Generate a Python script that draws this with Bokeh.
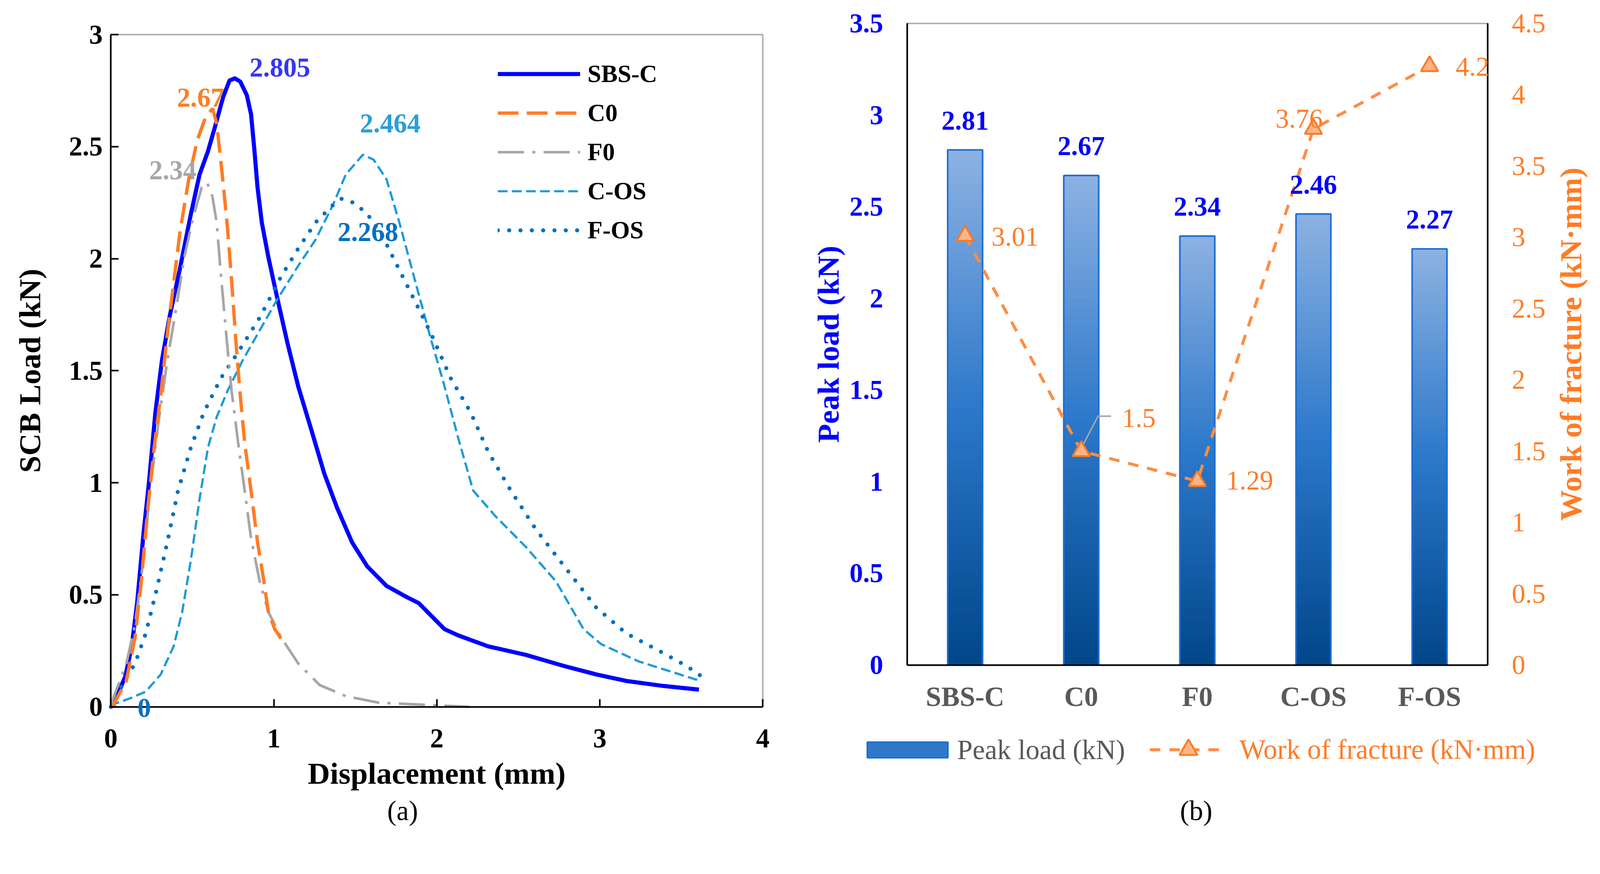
import math
from bokeh.plotting import figure
from bokeh.models import (Range1d, LinearAxis, Legend, LegendItem, Label, LabelSet,
                          ColumnDataSource, FixedTicker, BoxAnnotation)
from bokeh.layouts import row
from bokeh.embed import file_html
from bokeh.resources import INLINE
from bokeh.core.properties import value

FONT = "Liberation Serif"

# ---------------- panel (a): SCB load vs displacement ----------------
sbs_x = [0, 0.016, 0.088, 0.128, 0.161, 0.20, 0.234, 0.273, 0.313, 0.359, 0.425, 0.491, 0.544,
         0.596, 0.642, 0.689, 0.728, 0.761, 0.794, 0.834, 0.860, 0.880, 0.90, 0.926, 0.966, 1.018,
         1.084, 1.15, 1.23, 1.309, 1.388, 1.48, 1.573, 1.691, 1.81, 1.889, 1.968, 2.047, 2.131,
         2.315, 2.546, 2.777, 2.977, 3.16, 3.392, 3.608]
sbs_y = [0, 0.01, 0.135, 0.27, 0.463, 0.772, 1.004, 1.313, 1.544, 1.737, 1.96, 2.20, 2.375,
         2.48, 2.597, 2.722, 2.795, 2.805, 2.79, 2.73, 2.645, 2.49, 2.317, 2.162, 2.008, 1.834,
         1.622, 1.429, 1.236, 1.042, 0.888, 0.734, 0.627, 0.54, 0.492, 0.463, 0.405, 0.347, 0.319,
         0.27, 0.232, 0.183, 0.145, 0.116, 0.093, 0.077]

c0_x = [0, 0.016, 0.095, 0.148, 0.187, 0.227, 0.266, 0.306, 0.346, 0.385, 0.425, 0.478, 0.53,
        0.583, 0.625, 0.65, 0.668, 0.689, 0.715, 0.742, 0.768, 0.794, 0.821, 0.86, 0.9, 0.939,
        0.966, 1.005, 1.058]
c0_y = [0, 0.01, 0.116, 0.309, 0.56, 0.888, 1.158, 1.39, 1.66, 1.892, 2.124, 2.355, 2.529,
        2.635, 2.67, 2.60, 2.48, 2.336, 2.143, 1.892, 1.622, 1.39, 1.178, 0.965, 0.734, 0.56,
        0.425, 0.347, 0.29]

f0_x = [0, 0.009, 0.095, 0.148, 0.2, 0.24, 0.293, 0.346, 0.4, 0.451, 0.504, 0.557, 0.59, 0.623,
        0.649, 0.675, 0.708, 0.741, 0.781, 0.821, 0.86, 0.913, 0.966, 1.045, 1.15, 1.282, 1.441,
        1.639, 1.90, 2.2]
f0_y = [0, 0.029, 0.193, 0.367, 0.656, 0.965, 1.274, 1.544, 1.776, 2.008, 2.181, 2.317, 2.34,
        2.278, 2.162, 1.93, 1.66, 1.409, 1.178, 0.965, 0.753, 0.56, 0.425, 0.309, 0.193, 0.097,
        0.048, 0.019, 0.01, 0.0]

cos_x = [0, 0.009, 0.121, 0.214, 0.306, 0.385, 0.438, 0.491, 0.544, 0.596, 0.649, 0.715, 0.807,
         0.913, 1.018, 1.15, 1.256, 1.362, 1.441, 1.546, 1.612, 1.691, 1.77, 1.863, 1.968, 2.04,
         2.131, 2.223, 2.362, 2.546, 2.731, 2.9, 3.008, 3.238, 3.62]
cos_y = [0, 0.01, 0.039, 0.068, 0.145, 0.27, 0.425, 0.656, 0.927, 1.158, 1.293, 1.409, 1.544,
         1.68, 1.815, 1.969, 2.085, 2.239, 2.375, 2.464, 2.442, 2.355, 2.162, 1.911, 1.63, 1.45,
         1.2, 0.965, 0.849, 0.714, 0.56, 0.347, 0.28, 0.203, 0.115]

fos_x = [0, 0.01, 0.069, 0.148, 0.214, 0.28, 0.346, 0.412, 0.491, 0.57, 0.675, 0.781, 0.913,
         1.045, 1.15, 1.256, 1.362, 1.414, 1.493, 1.573, 1.665, 1.744, 1.863, 1.968, 2.085, 2.208,
         2.315, 2.454, 2.608, 2.792, 2.977, 3.162, 3.362, 3.531, 3.646]
fos_y = [0, 0.01, 0.097, 0.193, 0.328, 0.521, 0.734, 0.965, 1.158, 1.313, 1.467, 1.583, 1.737,
         1.921, 2.046, 2.162, 2.239, 2.268, 2.249, 2.2, 2.104, 1.988, 1.815, 1.66, 1.467, 1.313,
         1.139, 0.965, 0.792, 0.618, 0.444, 0.328, 0.251, 0.183, 0.125]

a_x_ticks = [0, 1, 2, 3, 4]
a_x_labels = ["0", "1", "2", "3", "4"]
a_y_ticks = [0, 0.5, 1, 1.5, 2, 2.5, 3]
a_y_labels = ["0", "0.5", "1", "1.5", "2", "2.5", "3"]

peak_text = ["2.805", "2.67", "2.34", "2.464", "2.268", "0"]
peak_colors = ["#3636F2", "#FF7C26", "#A6A6A6", "#2A9FD8", "#0070C0", "#0070C0"]
# annotation anchor positions (layout)
peak_tx = [1.037, 0.55, 0.38, 1.714, 1.577, 0.205]
peak_ty = [2.853, 2.718, 2.394, 2.603, 2.119, -0.005]

# ---------------- panel (b): peak load / work of fracture ----------------
categories = ["SBS-C", "C0", "F0", "C-OS", "F-OS"]
peak_load = [2.81, 2.67, 2.34, 2.46, 2.27]
work_fracture = [3.01, 1.5, 1.29, 3.76, 4.2]
peak_labels = ["2.81", "2.67", "2.34", "2.46", "2.27"]
work_labels = ["3.01", "1.5", "1.29", "3.76", "4.2"]
b_left_ticks = [0, 0.5, 1, 1.5, 2, 2.5, 3, 3.5]
b_left_labels = ["0", "0.5", "1", "1.5", "2", "2.5", "3", "3.5"]
b_right_ticks = [0, 0.5, 1, 1.5, 2, 2.5, 3, 3.5, 4, 4.5]
b_right_labels = ["0", "0.5", "1", "1.5", "2", "2.5", "3", "3.5", "4", "4.5"]

# label offsets (layout only)
work_dx = [0.43, 0.496, 0.451, -0.124, 0.37]
work_dy = [-0.007, 0.232, 0.004, 0.07, -0.005]

BLUE_TXT = "#0000FF"
ORANGE = "#FF7C26"
GRAY_TXT = "#595959"

# ---------------- page geometry ----------------
# positions are taken in reference-image pixels and converted to CSS pixels
ZOOM = 1.045
SHIFT = 10


def T(v):
    return v / ZOOM + SHIFT


def S(v):
    return v / ZOOM


def fpx(v):
    return "%dpx" % round(S(v))


def dash(*vals):
    return " ".join(str(max(0, round(S(v)))) for v in vals)


W1, W2, H = 2044, 2030, 2125
TOP = 8
BOTTOM = TOP + H
A_X0 = 8
B_X0 = 8 + W1
A_BOX = dict(left=T(294), right=T(2038), top=T(90), bottom=T(1888))
B_BOX = dict(left=T(2424), right=T(3977), top=T(60), bottom=T(1776))
CAPTION_Y = 2166  # caption centre line (kept clear of the page's bottom edge)


def lin(p, p0, v0, p1, v1):
    return v0 + (p - p0) * (v1 - v0) / (p1 - p0)


def style_axis(ax, ticks, labels, color, bold, size, standoff, tick_in=0):
    ax.ticker = FixedTicker(ticks=ticks)
    ax.major_label_overrides = dict(zip(ticks, labels))
    ax.major_label_text_font = FONT
    ax.major_label_text_font_size = fpx(size)
    ax.major_label_text_font_style = "bold" if bold else "normal"
    ax.major_label_text_color = color
    ax.major_label_standoff = round(S(standoff))
    ax.major_tick_in = round(S(tick_in))
    ax.major_tick_out = 0
    ax.minor_tick_in = 0
    ax.minor_tick_out = 0
    ax.major_tick_line_color = "black"
    ax.major_tick_line_width = 4
    ax.axis_line_color = "black"
    ax.axis_line_width = 4


def style_label(ax, text, color, standoff):
    ax.axis_label = text
    ax.axis_label_text_font = FONT
    ax.axis_label_text_font_size = fpx(83)
    ax.axis_label_text_font_style = "bold"
    ax.axis_label_text_color = color
    ax.axis_label_standoff = round(S(standoff))


def base_fig(w, xr, yr):
    p = figure(width=w, height=H, x_range=xr, y_range=yr, title=None,
               output_backend="svg", toolbar_location=None,
               min_border_left=0, min_border_right=0, min_border_top=0, min_border_bottom=0)
    p.grid.visible = False
    p.outline_line_color = None
    p.background_fill_color = "white"
    p.border_fill_color = "white"
    return p


# ======================= figure (a) =======================
ax_r = Range1d(lin(A_X0, A_BOX["left"], 0, A_BOX["right"], 4),
               lin(A_X0 + W1, A_BOX["left"], 0, A_BOX["right"], 4))
ay_r = Range1d(lin(BOTTOM, A_BOX["bottom"], 0, A_BOX["top"], 3),
               lin(TOP, A_BOX["bottom"], 0, A_BOX["top"], 3))
p1 = base_fig(W1, ax_r, ay_r)


def ay(py_ref):
    return lin(T(py_ref), A_BOX["bottom"], 0, A_BOX["top"], 3)


xa = p1.xaxis[0]
ya = p1.yaxis[0]
xa.fixed_location = 0
ya.fixed_location = 0
xa.bounds = (0, 4)
ya.bounds = (0, 3)
style_axis(xa, a_x_ticks, a_x_labels, "black", True, 72, 61, tick_in=21)
style_axis(ya, a_y_ticks, a_y_labels, "black", True, 72, 22, tick_in=21)
style_label(xa, "Displacement (mm)", "black", 20)
style_label(ya, "SCB Load (kN)", "black", 55)
p1.add_layout(BoxAnnotation(left=0, right=4, bottom=0, top=3, fill_alpha=0,
                            line_color="black", line_width=4))

r_sbs = p1.line(sbs_x, sbs_y, line_color="#0000FF", line_width=S(11), line_join="round")
r_cos = p1.line(cos_x, cos_y, line_color="#1E9BD7", line_width=S(6), line_dash=dash(26, 12))
r_fos = p1.line(fos_x, fos_y, line_color="#0070C0", line_width=S(11), line_dash=dash(0, 30),
                line_cap="round")
r_f0 = p1.line(f0_x, f0_y, line_color="#A6A6A6", line_width=S(7), line_dash=dash(70, 22, 8, 22))
r_c0 = p1.line(c0_x, c0_y, line_color="#FF7C26", line_width=S(9), line_dash=dash(55, 22))

leg_a = Legend(items=[LegendItem(label="SBS-C", renderers=[r_sbs]),
                      LegendItem(label="C0", renderers=[r_c0]),
                      LegendItem(label="F0", renderers=[r_f0]),
                      LegendItem(label="C-OS", renderers=[r_cos]),
                      LegendItem(label="F-OS", renderers=[r_fos])],
               location=(round(T(1329) - A_X0), round(BOTTOM - T(666))), orientation="vertical",
               glyph_width=round(S(221)), glyph_height=round(S(105)),
               label_standoff=round(S(20)), spacing=0,
               padding=0, margin=0, border_line_color=None, background_fill_alpha=0,
               label_text_font=FONT, label_text_font_style="bold",
               label_text_font_size=fpx(66), label_text_color="black")
p1.add_layout(leg_a)

src_pk = ColumnDataSource(dict(x=peak_tx, y=peak_ty, text=peak_text, color=peak_colors))
p1.add_layout(LabelSet(x="x", y="y", text="text", source=src_pk, text_color="color",
                       text_font=value(FONT), text_font_size=fpx(72), text_font_style="bold",
                       text_align="center", text_baseline="middle"))

p1.add_layout(Label(x=1.79, y=ay(CAPTION_Y), text="(a)", text_font=FONT, text_font_size=fpx(74),
                    text_color="black", text_align="center", text_baseline="middle"))

# ======================= figure (b) =======================
xs = list(range(len(categories)))
bx_r = Range1d(lin(B_X0, B_BOX["left"], -0.5, B_BOX["right"], 4.5),
               lin(B_X0 + W2, B_BOX["left"], -0.5, B_BOX["right"], 4.5))
by_r = Range1d(lin(BOTTOM, B_BOX["bottom"], 0, B_BOX["top"], 3.5),
               lin(TOP, B_BOX["bottom"], 0, B_BOX["top"], 3.5))
bw_r = Range1d(lin(BOTTOM, B_BOX["bottom"], 0, B_BOX["top"], 4.5),
               lin(TOP, B_BOX["bottom"], 0, B_BOX["top"], 4.5))
p2 = base_fig(W2, bx_r, by_r)
p2.extra_y_ranges = {"work": bw_r}


def bx(px_ref):
    return lin(T(px_ref), B_BOX["left"], -0.5, B_BOX["right"], 4.5)


def by(py_ref):
    return lin(T(py_ref), B_BOX["bottom"], 0, B_BOX["top"], 3.5)


xb = p2.xaxis[0]
yb = p2.yaxis[0]
xb.fixed_location = 0
yb.fixed_location = -0.5
xb.bounds = (-0.5, 4.5)
yb.bounds = (0, 3.5)
style_axis(xb, xs, categories, GRAY_TXT, True, 74, 44)
style_axis(yb, b_left_ticks, b_left_labels, BLUE_TXT, True, 72, 64)
style_label(yb, "Peak load (kN)", BLUE_TXT, 8)

right_ax = LinearAxis(y_range_name="work", fixed_location=4.5, bounds=(0, 4.5))
p2.add_layout(right_ax, "right")
style_axis(right_ax, b_right_ticks, b_right_labels, ORANGE, False, 72, 65)
# right-hand axis title, reading bottom to top as in the original
p2.add_layout(Label(x=bx(4200), y=by((60 + 1776) / 2), text="Work of fracture (kN·mm)",
                    angle=math.pi / 2, text_font=FONT, text_font_size=fpx(83),
                    text_font_style="bold", text_color=ORANGE, text_align="center",
                    text_baseline="middle"))


def hex2rgb(c):
    return [int(c[i:i + 2], 16) for i in (1, 3, 5)]


def mix(c1, c2, t):
    a, b = hex2rgb(c1), hex2rgb(c2)
    return "#%02x%02x%02x" % tuple(int(round(u + (v - u) * t)) for u, v in zip(a, b))


G_TOP, G_MID, G_BOT = "#8DB2E2", "#2C78CA", "#00468A"


def grad(t):
    if t < 0.5:
        return mix(G_BOT, G_MID, t / 0.5)
    return mix(G_MID, G_TOP, (t - 0.5) / 0.5)


# base bar (also used as legend swatch), gradient slices, outline
r_bar = p2.vbar(x=xs, top=peak_load, width=0.3, fill_color="#2F78C8", line_color="#1E6FD2",
                line_width=4)
NS = 60
sx, sb, st, sc = [], [], [], []
for x, v in zip(xs, peak_load):
    for k in range(NS):
        sx.append(x)
        sb.append(v * k / NS)
        st.append(v * (k + 1) / NS)
        sc.append(grad((k + 0.5) / NS))
p2.vbar(x=sx, bottom=sb, top=st, width=0.3, fill_color=sc, line_color=sc, line_width=1)
p2.vbar(x=xs, top=peak_load, width=0.3, fill_alpha=0, line_color="#1E6FD2", line_width=4)

p2.add_layout(BoxAnnotation(left=-0.5, right=4.5, bottom=0, top=3.5, fill_alpha=0,
                            line_color="black", line_width=4))

src_bl = ColumnDataSource(dict(x=xs, y=[v + 0.16 for v in peak_load], text=peak_labels))
p2.add_layout(LabelSet(x="x", y="y", text="text", source=src_bl, text_color=BLUE_TXT,
                       text_font=value(FONT), text_font_size=fpx(72), text_font_style="bold",
                       text_align="center", text_baseline="middle"))

r_wline = p2.line(xs, work_fracture, y_range_name="work", line_color="#FF8C42",
                  line_width=S(8), line_dash=dash(28, 24))
# leader line for the C0 label
lx0, ly0 = xs[1], work_fracture[1]
p2.line([lx0, lx0 + 0.145, lx0 + 0.256], [ly0 + 0.02, ly0 + 0.245, ly0 + 0.245],
        y_range_name="work", line_color="#A6A6A6", line_width=S(4))
r_wtri = p2.scatter(xs, work_fracture, y_range_name="work", marker="triangle", size=S(46),
                    fill_color="#F9B58A", line_color="#FF7A1F", line_width=S(5))

src_wl = ColumnDataSource(dict(x=[x + d for x, d in zip(xs, work_dx)],
                               y=[v + d for v, d in zip(work_fracture, work_dy)],
                               text=work_labels))
p2.add_layout(LabelSet(x="x", y="y", text="text", source=src_wl, y_range_name="work",
                       text_color=ORANGE, text_font=value(FONT), text_font_size=fpx(72),
                       text_align="center", text_baseline="middle"))

# legend, row below the chart (centre line at reference y = 2003)
LEG_CY = 2003
sw_h = 42 / 0.8  # area legend glyphs are inset by 10% on every side
sw_w = 216 / 0.8
leg_b1 = Legend(items=[LegendItem(label=" ", renderers=[r_bar])],
                location=(round(T(2318 - (sw_w - 216) / 2) - B_X0),
                          round(BOTTOM - T(LEG_CY + sw_h / 2))),
                glyph_width=round(S(sw_w)), glyph_height=round(S(sw_h)), label_standoff=0,
                label_height=1, label_width=1, padding=0, margin=0, border_line_color=None,
                background_fill_alpha=0, label_text_font=FONT, label_text_font_size="1px")
leg_b2 = Legend(items=[LegendItem(label="Work of fracture (kN·mm)", renderers=[r_wline, r_wtri])],
                location=(round(T(3073) - B_X0), round(BOTTOM - T(LEG_CY + 60))),
                glyph_width=round(S(207)), glyph_height=round(S(120)),
                label_standoff=round(S(33)),
                padding=0, margin=0, border_line_color=None, background_fill_alpha=0,
                label_text_font=FONT, label_text_font_size=fpx(74), label_text_color=ORANGE)
p2.add_layout(leg_b1)
p2.add_layout(leg_b2)
p2.add_layout(Label(x=bx(2558), y=by(LEG_CY), text="Peak load (kN)", text_font=FONT,
                    text_font_size=fpx(74), text_color=GRAY_TXT, text_align="left",
                    text_baseline="middle"))

p2.add_layout(Label(x=1.99, y=by(CAPTION_Y), text="(b)", text_font=FONT, text_font_size=fpx(74),
                    text_color="black", text_align="center", text_baseline="middle"))

layout = row(p1, p2)
open("out.html", "w").write(file_html(layout, INLINE))
